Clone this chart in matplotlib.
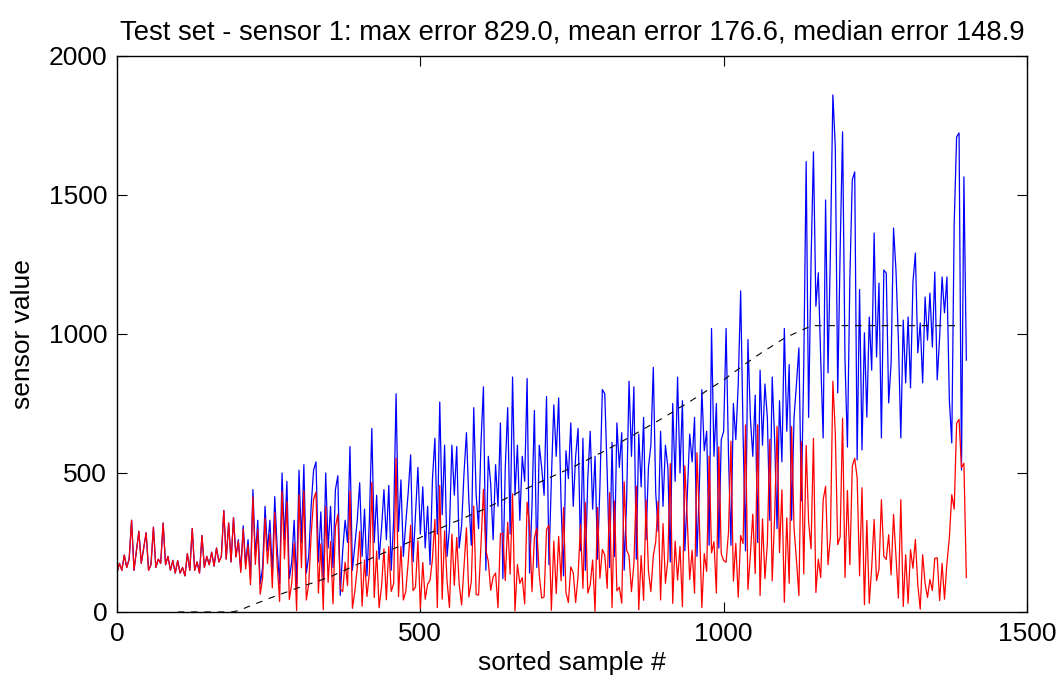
import numpy as np
import matplotlib
matplotlib.use("Agg")
import matplotlib.pyplot as plt

plt.rcParams['font.family'] = ['Liberation Sans', 'DejaVu Sans']

# predicted sensor value, one reading every 4 sorted samples
pred = [
    140, 175, 150, 205, 160, 190, 330, 150, 220, 290, 175, 230, 285, 150, 170, 305, 160, 190, 175, 320, 170, 200, 150, 185, 140,
    185, 140, 160, 130, 210, 150, 300, 150, 180, 140, 275, 160, 200, 170, 215, 165, 230, 180, 200, 365, 190, 320, 180, 340, 200,
    260, 150, 310, 170, 260, 120, 440, 200, 330, 100, 160, 380, 220, 330, 140, 415, 230, 100, 500, 260, 470, 120, 180, 330, 90,
    510, 250, 530, 140, 200, 380, 510, 540, 180, 360, 110, 500, 230, 380, 160, 440, 490, 60, 220, 330, 250, 595, 150, 240, 330,
    465, 200, 370, 130, 330, 660, 250, 420, 190, 300, 440, 260, 455, 150, 330, 785, 290, 475, 200, 320, 430, 565, 180, 350, 520,
    280, 450, 230, 380, 170, 480, 625, 280, 755, 350, 600, 200, 300, 600, 420, 595, 230, 310, 500, 645, 400, 240, 735, 420, 300,
    610, 810, 150, 560, 460, 260, 530, 380, 680, 120, 520, 735, 280, 845, 420, 600, 330, 560, 470, 840, 140, 380, 725, 160, 600,
    520, 420, 775, 170, 480, 745, 560, 770, 390, 130, 580, 480, 680, 380, 560, 660, 220, 625, 150, 480, 650, 370, 560, 190, 450,
    800, 785, 500, 160, 610, 200, 680, 520, 645, 150, 400, 830, 560, 810, 190, 640, 450, 700, 260, 520, 600, 880, 430, 290, 650,
    380, 600, 520, 180, 750, 470, 845, 500, 760, 220, 420, 640, 540, 700, 200, 460, 800, 580, 650, 240, 1020, 560, 750, 230, 620,
    650, 1020, 560, 240, 750, 620, 820, 1155, 640, 220, 980, 700, 560, 780, 250, 870, 600, 820, 700, 330, 845, 620, 300, 760, 540,
    1020, 650, 890, 330, 700, 820, 950, 400, 880, 1620, 700, 1255, 1655,
    1100, 1220, 906, 626, 1482, 860, 1300, 1860, 1673, 788, 1300, 1727, 906, 593, 1200, 1554,
    1583, 547, 1160, 583, 1004, 701, 1061, 870, 1363, 917, 1183, 626, 1230, 1219, 752, 896,
    1381, 1230, 980, 626, 1050, 824, 1061, 806, 1187, 1291, 932, 1040, 824, 1133, 978, 1147,
    953, 1223, 835, 989, 1205, 1076, 1205, 763, 608, 1400, 1709, 1723, 511, 1565, 906,
]

# true sensor value (sorted), same sample grid
truth = (
    [0] * 48 +
    [1, 3, 5, 8, 12, 15, 19, 22, 26, 29, 33, 36, 39, 43, 46,
     50, 53, 56, 59, 62, 66, 69, 72, 75, 78, 82, 85, 88,
     91, 94, 97, 100, 103, 106, 109, 112, 115, 118, 121, 124,
     127, 131, 135, 139, 143, 147, 151, 155, 159, 163, 167, 171, 175,
     179, 183, 186, 190, 194, 198, 201, 205, 209, 213, 216, 220, 224,
     228, 231, 235, 239, 243, 246, 250, 253, 257, 261, 264, 268,
     272, 276, 280, 284, 288, 292, 296, 300, 304, 308, 312, 316, 320,
     324, 327, 331, 335, 339, 342, 346, 350, 354, 357, 361, 365,
     369, 373, 378, 382, 386, 390, 395, 399, 403, 407, 412, 416, 420,
     424, 429, 433, 437, 441, 445, 449, 453, 457, 462, 466, 470,
     474, 478, 482, 486, 490, 494, 498, 502, 506, 510, 514, 518, 522,
     526, 531, 535, 540, 544, 548, 553, 557, 562, 566, 571, 575,
     580, 585, 589, 594, 599, 604, 609, 613, 618, 623, 628, 633, 637,
     643, 648, 653, 658, 663, 668, 673, 678, 683, 688, 693, 698,
     703, 709, 714, 719, 725, 730, 736, 741, 746, 752, 757, 762, 768,
     773, 779, 784, 790, 796, 801, 807, 813, 818, 824, 829, 835,
     841, 848, 854, 861, 867, 873, 880, 886, 893, 899, 905, 912, 918,
     923, 929, 935, 940, 946, 951, 957, 963, 968, 974, 979, 985,
     989, 993, 997, 1001, 1005, 1009, 1013, 1017, 1021, 1025, 1028, 1030] +
    [1030] * 63
)

pred = np.array(pred, dtype=float)
truth = np.array(truth, dtype=float)
sample = np.arange(len(pred)) * 4
err = np.abs(pred - truth)

fig = plt.figure(figsize=(10.58, 6.86), dpi=100)
ax = fig.add_axes([0.1106, 0.1079, 0.8601, 0.8105])

ax.plot(sample, pred, color='#0000ff', lw=0.9)
ax.plot(sample, err, color='#ff0000', lw=0.9)
ax.plot(sample[25:-2], truth[25:-2], color='black', lw=0.8, ls=(0, (6, 6)))

ax.set_xlim(0, 1500)
ax.set_ylim(0, 2000)
ax.set_xticks([0, 500, 1000, 1500])
ax.set_yticks([0, 500, 1000, 1500, 2000])
ax.tick_params(direction='in', top=True, right=True, length=7, labelsize=19, pad=7)
for s in ax.spines.values():
    s.set_linewidth(1.0)

ax.set_title('Test set - sensor 1: max error 829.0, mean error 176.6, median error 148.9',
             fontsize=19.7, pad=12)
ax.set_xlabel('sorted sample #', fontsize=19, labelpad=4)
ax.set_ylabel('sensor value', fontsize=19, labelpad=10)

fig.savefig('out.png', dpi=100)
